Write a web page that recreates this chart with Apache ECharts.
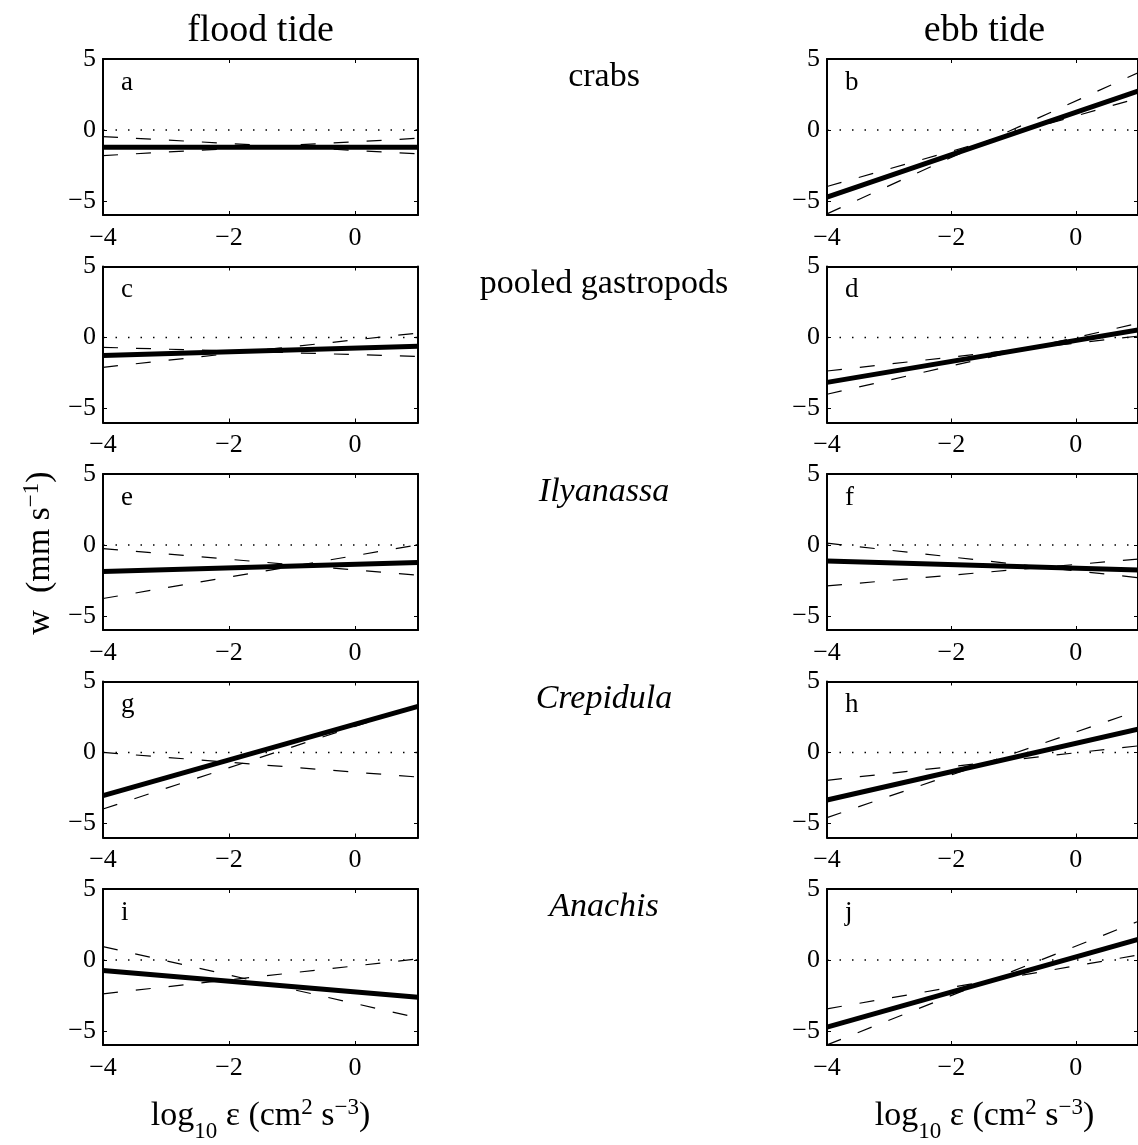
<!DOCTYPE html>
<html><head><meta charset="utf-8">
<script src="https://cdn.jsdelivr.net/npm/echarts@6/dist/echarts.min.js"></script>
<style>html,body{margin:0;padding:0;background:#fff}#c{width:1138px;height:1145px}</style>
</head><body><div id="c"></div>
<script>
// ---- data ----
const xEnds = [-4, 1];
const xTicks = [-4, -2, 0];
const yTicks = [-5, 0, 5];
const zeroLine = [0, 0];
const colTitles = ['flood tide', 'ebb tide'];
const speciesNames = ['crabs', 'pooled gastropods', 'Ilyanassa', 'Crepidula', 'Anachis'];
const speciesItalic = [false, false, true, true, true];
const floodLetters = ['a', 'c', 'e', 'g', 'i'];
const ebbLetters = ['b', 'd', 'f', 'h', 'j'];
// fitted line values at x = -4 and x = 1
const floodFit = [[-1.22, -1.22], [-1.27, -0.63], [-1.88, -1.24], [-3.05, 3.24], [-0.75, -2.63]];
const floodBandA = [[-0.47, -1.69], [-0.70, -1.34], [-0.26, -2.14], [0.00, -1.74], [0.94, -4.08]];
const floodBandB = [[-1.81, -0.59], [-2.11, 0.31], [-3.78, 0.00], [-3.99, 3.29], [-2.39, 0.07]];
const ebbFit = [[-4.74, 2.74], [-3.17, 0.53], [-1.13, -1.77], [-3.36, 1.64], [-4.74, 1.45]];
const ebbBandA = [[-3.99, 2.23], [-2.37, 0.09], [0.12, -2.31], [-1.97, 0.46], [-3.45, 0.34]];
const ebbBandB = [[-5.92, 4.03], [-4.01, 0.99], [-2.89, -1.00], [-4.60, 2.94], [-5.99, 2.71]];

// ---- layout / style ----
const FONT = 'Liberation Serif';
const colLeft = [103, 827];
const gridW = 315, gridH = 156, top0 = 59, rowStep = 207.5;
const fmt = v => (v < 0 ? '\u2212' + Math.abs(v) : String(v));

const grids = [], xAxes = [], yAxes = [], series = [], graphics = [];
const cols = [
  {letters: floodLetters, fit: floodFit, a: floodBandA, b: floodBandB},
  {letters: ebbLetters, fit: ebbFit, a: ebbBandA, b: ebbBandB}
];
const toPts = arr => xEnds.map((x, i) => [x, arr[i]]);

cols.forEach((col, c) => {
  for (let r = 0; r < 5; r++) {
    const gi = grids.length;
    const top = top0 + rowStep * r;
    grids.push({left: colLeft[c], top: top, width: gridW, height: gridH, containLabel: false});
    const lineStyle = {color: '#000', width: 2};
    const tick = (vals) => ({show: true, inside: true, length: 4, lineStyle: {color: '#000', width: 1}, customValues: vals});
    xAxes.push({gridIndex: gi, type: 'value', min: -4, max: 1, position: 'bottom',
      axisLine: {show: true, onZero: false, lineStyle},
      axisTick: tick(xTicks),
      axisLabel: {show: true, customValues: xTicks, formatter: fmt, color: '#000', fontFamily: FONT, fontSize: 26, margin: 10},
      splitLine: {show: false}});
    xAxes.push({gridIndex: gi, type: 'value', min: -4, max: 1, position: 'top',
      axisLine: {show: true, onZero: false, lineStyle},
      axisTick: tick(xTicks), axisLabel: {show: false}, splitLine: {show: false}});
    yAxes.push({gridIndex: gi, type: 'value', min: -6, max: 5, position: 'left',
      axisLine: {show: true, onZero: false, lineStyle},
      axisTick: tick(yTicks),
      axisLabel: {show: true, customValues: yTicks, formatter: fmt, color: '#000', fontFamily: FONT, fontSize: 26, margin: 7},
      splitLine: {show: false}});
    yAxes.push({gridIndex: gi, type: 'value', min: -6, max: 5, position: 'right',
      axisLine: {show: true, onZero: false, lineStyle},
      axisTick: tick(yTicks), axisLabel: {show: false}, splitLine: {show: false}});
    const xi = gi * 2, yi = gi * 2;
    const base = {type: 'line', xAxisIndex: xi, yAxisIndex: yi, symbol: 'none', silent: true, animation: false, clip: true};
    series.push(Object.assign({}, base, {data: toPts(zeroLine), lineStyle: {color: '#000', width: 1.5, type: [1.5, 11]}}));
    series.push(Object.assign({}, base, {data: toPts(col.a[r]), lineStyle: {color: '#000', width: 1.2, type: [15, 18]}}));
    series.push(Object.assign({}, base, {data: toPts(col.b[r]), lineStyle: {color: '#000', width: 1.2, type: [15, 18]}}));
    series.push(Object.assign({}, base, {data: toPts(col.fit[r]), lineStyle: {color: '#000', width: 5}}));
    graphics.push({type: 'text', left: colLeft[c] + 18, top: top + 10,
      style: {text: col.letters[r], font: '27px "' + FONT + '"', fill: '#000'}});
  }
});

// column titles
colTitles.forEach((t, c) => {
  graphics.push({type: 'text', x: colLeft[c] + gridW / 2, y: 31,
    style: {text: t, font: '38px "' + FONT + '"', fill: '#000', align: 'center', verticalAlign: 'middle'}});
});
// species labels
speciesNames.forEach((s, r) => {
  graphics.push({type: 'text', x: 604, y: top0 + rowStep * r + 18,
    style: {text: s, font: (speciesItalic[r] ? 'italic ' : '') + '34px "' + FONT + '"', fill: '#000', align: 'center', verticalAlign: 'middle'}});
});
// x axis labels
const richStyles = {
  m: {fontFamily: FONT, fontSize: 34, lineHeight: 54, fill: '#000', verticalAlign: 'middle'},
  s: {fontFamily: FONT, fontSize: 23, fill: '#000', verticalAlign: 'bottom'},
  p: {fontFamily: FONT, fontSize: 23, fill: '#000', verticalAlign: 'top', padding: [7, 0, 0, 0]}
};
colLeft.forEach(l => {
  graphics.push({type: 'text', x: l + gridW / 2, y: 1116,
    style: {text: '{m|log}{s|10}{m| \u03b5 (cm}{p|2}{m| s}{p|\u22123}{m|)}', rich: richStyles, fill: '#000', align: 'center', verticalAlign: 'middle'}});
});
// y axis label
graphics.push({type: 'text', x: 40, y: 553, rotation: Math.PI / 2,
  style: {text: '{m|w  (mm s}{p|\u22121}{m|)}', rich: richStyles, fill: '#000', align: 'center', verticalAlign: 'middle'}});

const chart = echarts.init(document.getElementById('c'), null, {renderer: 'canvas'});
chart.setOption({
  animation: false,
  backgroundColor: '#fff',
  grid: grids, xAxis: xAxes, yAxis: yAxes, series: series, graphic: graphics
});
</script></body></html>
